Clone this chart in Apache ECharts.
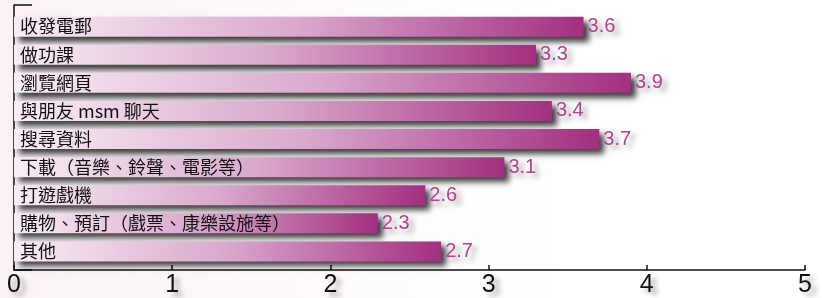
<!DOCTYPE html>
<html>
<head>
<meta charset="utf-8">
<script src="https://cdn.jsdelivr.net/npm/echarts@6/dist/echarts.min.js"></script>
<style>
  html, body { margin: 0; padding: 0; background: #fff; }
  #ch1 { width: 822px; height: 298px; }
</style>
</head>
<body>
<div id="ch1"></div>
<script>
var categories = ['收發電郵', '做功課', '瀏覽網頁', '與朋友 msm 聊天', '搜尋資料', '下載（音樂、鈴聲、電影等）', '打遊戲機', '購物、預訂（戲票、康樂設施等）', '其他'];
var values = [3.6, 3.3, 3.9, 3.4, 3.7, 3.1, 2.6, 2.3, 2.7];
var xTicks = [0, 1, 2, 3, 4, 5];

window.onload = function() {
  var ch1 = echarts.init(document.getElementById('ch1'));
  var op1 = {
    animation: false,
    backgroundColor: new echarts.graphic.LinearGradient(0, 0, 1, 0, [
      { offset: 0, color: '#faf2f7' },
      { offset: 0.7, color: '#ffffff' }
    ]),
    grid: [
      // bars
      { left: 14, right: 17, top: 12.6, bottom: 32.5 },
      // axis frame
      { left: 14, right: 17, top: 5, bottom: 28 }
    ],
    xAxis: [{
      gridIndex: 0,
      type: 'value',
      min: xTicks[0],
      max: xTicks[xTicks.length - 1],
      show: false
    }, {
      gridIndex: 1,
      type: 'value',
      min: xTicks[0],
      max: xTicks[xTicks.length - 1],
      interval: 1,
      axisLine: { show: true, lineStyle: { color: '#111', width: 1.5 } },
      axisTick: { show: true, inside: true, length: 5, lineStyle: { color: '#111', width: 1.5 } },
      splitLine: { show: false },
      axisLabel: {
        margin: 3,
        fontSize: 25,
        fontFamily: 'Liberation Sans Narrow, Liberation Sans, sans-serif',
        color: '#111',
        textShadowColor: 'rgba(0,0,0,0.35)',
        textShadowBlur: 5,
        textShadowOffsetX: 5,
        textShadowOffsetY: 4
      }
    }],
    yAxis: [{
      gridIndex: 0,
      type: 'category',
      data: categories,
      inverse: true,
      z: 10,
      axisLine: { show: false },
      axisTick: { show: false },
      axisLabel: {
        inside: true,
        margin: 6,
        fontSize: 18,
        fontFamily: 'Noto Sans CJK TC, sans-serif',
        color: '#111'
      }
    }, {
      gridIndex: 1,
      type: 'value',
      min: 0,
      max: 1,
      interval: 1,
      axisLine: { show: true, lineStyle: { color: '#111', width: 1.5 } },
      axisTick: { show: true, inside: true, length: 18, lineStyle: { color: '#111', width: 1.5 } },
      axisLabel: { show: false },
      splitLine: { show: false }
    }],
    series: [{
      type: 'bar',
      xAxisIndex: 0,
      yAxisIndex: 0,
      data: values,
      barWidth: 20,
      label: {
        show: true,
        position: 'right',
        distance: 4,
        fontSize: 20,
        fontFamily: 'Liberation Sans, sans-serif',
        color: '#b2418f',
        textShadowColor: 'rgba(0,0,0,0.35)',
        textShadowBlur: 5,
        textShadowOffsetX: 5,
        textShadowOffsetY: 4
      },
      itemStyle: {
        color: new echarts.graphic.LinearGradient(0, 0, 1, 0, [
          { offset: 0, color: '#f8edf5' },
          { offset: 0.5, color: '#d9a8cc' },
          { offset: 1, color: '#a32f80' }
        ]),
        shadowColor: 'rgba(0,0,0,0.75)',
        shadowBlur: 6,
        shadowOffsetX: 5,
        shadowOffsetY: 5
      }
    }]
  };
  ch1.setOption(op1);
};
</script>
</body>
</html>
